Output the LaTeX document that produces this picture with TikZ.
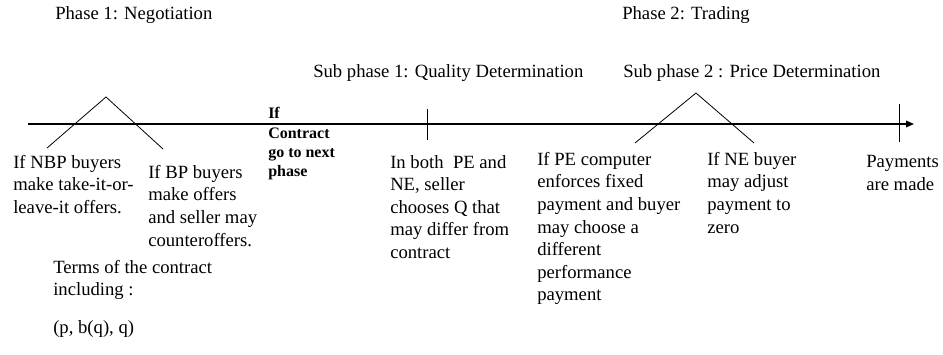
\documentclass[tikz,border=0pt]{standalone}
\usepackage{fontspec}
\setmainfont{Liberation Serif}
\usetikzlibrary{arrows.meta}

\begin{document}
\begin{tikzpicture}[
    x=0.75pt, y=-0.75pt,
    txt/.style={anchor=north west, inner sep=0pt, align=left,
                font=\fontsize{14}{16.9}\selectfont, execute at begin node=\strut},
    boldtxt/.style={txt, font=\fontsize{12}{14.6}\selectfont\bfseries},
    timeline/.style={-{Triangle[length=6pt,width=5pt]}, line width=0.9pt},
    seg/.style={line width=0.6pt}
  ]
    \useasboundingbox (0,0) rectangle (943,354);

    % phase titles
    \node[txt] (ph1) at (55,3) {Phase 1: Negotiation};
    \node[txt] (ph2) at (622,3) {Phase 2: Trading};
    \node[txt] (sub1) at (313,61) {Sub phase 1: Quality Determination};
    \node[txt] (sub2) at (623,61) {Sub phase 2 : Price Determination};

    % time line
    \coordinate (tstart) at (28,124);
    \coordinate (tend) at (914,124);
    \draw[timeline] (tstart) -- (tend);

    % ticks
    \coordinate (q1) at (427,109);  \coordinate (q2) at (427,140);
    \coordinate (p1) at (899,104);  \coordinate (p2) at (899,142);
    \draw[seg] (q1) -- (q2);
    \draw[seg] (p1) -- (p2);

    % branching of the two sub steps
    \coordinate (ntop) at (106,97);
    \coordinate (nleft) at (47,148);
    \coordinate (nright) at (163,149);
    \coordinate (ttop) at (696,93);
    \coordinate (tleft) at (635,143);
    \coordinate (tright) at (754,143);
    \foreach \a/\b/\c in {nleft/ntop/nright, tleft/ttop/tright}
      \draw[seg] (\a) -- (\b) -- (\c);

    % labels under the time line
    \node[txt] (nbp) at (13,155) {If NBP buyers\\make take-it-or-\\leave-it offers.};
    \node[txt] (bp) at (148,165) {If BP buyers\\make offers\\and seller may\\counteroffers.};
    \node[txt] (terms) at (53,260) {Terms of the contract\\including :};
    \node[txt] (ptuple) at (53,317) {(p, b(q), q)};
    \node[boldtxt] (next) at (268,107) {If\\Contract\\go to next\\phase};
    \node[txt] (qual) at (390,155) {In both\ \ PE and\\NE, seller\\chooses Q that\\may differ from\\contract};
    \node[txt] (pe) at (537,152) {If PE computer\\enforces fixed\\payment and buyer\\may choose a\\different\\performance\\payment};
    \node[txt] (ne) at (707,152) {If NE buyer\\may adjust\\payment to\\zero};
    \node[txt] (pay) at (866,155) {Payments\\are made};
  \end{tikzpicture}
\end{document}
